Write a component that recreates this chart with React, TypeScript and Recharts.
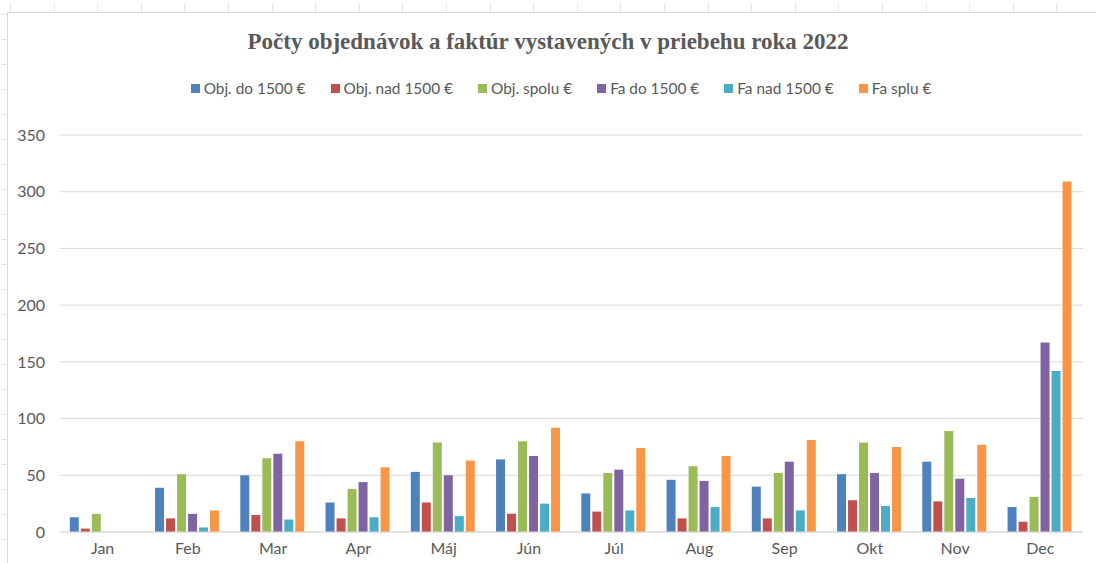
import React from "react";
import { BarChart, Bar, XAxis, YAxis, CartesianGrid, Legend } from "recharts";

const months = ["Jan", "Feb", "Mar", "Apr", "Máj", "Jún", "Júl", "Aug", "Sep", "Okt", "Nov", "Dec"];
const objDo1500 = [13, 39, 50, 26, 53, 64, 34, 46, 40, 51, 62, 22];
const objNad1500 = [3, 12, 15, 12, 26, 16, 18, 12, 12, 28, 27, 9];
const objSpolu = [16, 51, 65, 38, 79, 80, 52, 58, 52, 79, 89, 31];
const faDo1500 = [0, 16, 69, 44, 50, 67, 55, 45, 62, 52, 47, 167];
const faNad1500 = [0, 4, 11, 13, 14, 25, 19, 22, 19, 23, 30, 142];
const faSpolu = [0, 19, 80, 57, 63, 92, 74, 67, 81, 75, 77, 309];
const yTicks = [0, 50, 100, 150, 200, 250, 300, 350];

const series = [
  { key: "objDo", name: "Obj. do 1500 €", color: "#4F81BD", values: objDo1500 },
  { key: "objNad", name: "Obj. nad 1500 €", color: "#C0504D", values: objNad1500 },
  { key: "objSpolu", name: "Obj. spolu €", color: "#9BBB59", values: objSpolu },
  { key: "faDo", name: "Fa do 1500 €", color: "#8064A2", values: faDo1500 },
  { key: "faNad", name: "Fa nad 1500 €", color: "#4BACC6", values: faNad1500 },
  { key: "faSpolu", name: "Fa splu €", color: "#F79646", values: faSpolu },
];

const data = months.map((m, i) => {
  const row: Record<string, string | number> = { month: m };
  series.forEach((s) => {
    row[s.key] = s.values[i];
  });
  return row;
});

const FONT = "Lato, 'Open Sans', sans-serif";

const LegendContent = () => (
  <div
    style={{
      display: "flex",
      justifyContent: "center",
      alignItems: "center",
      fontFamily: FONT,
      fontSize: 15.4,
      color: "#595959",
      height: 20,
      paddingLeft: 26,
    }}
  >
    {series.map((s) => (
      <div key={s.key} style={{ display: "flex", alignItems: "center", margin: "0 12.5px" }}>
        <span style={{ width: 9, height: 9, background: s.color, display: "inline-block", marginRight: 4 }} />
        <span>{s.name}</span>
      </div>
    ))}
  </div>
);

export default function App() {
  return (
    <div style={{ position: "absolute", left: 0, top: 0, width: 1096, height: 563, background: "#fff", overflow: "hidden" }}>
      <div
        style={{
          position: "absolute",
          left: 0,
          top: 4,
          width: 1096,
          height: 8,
          backgroundImage: "repeating-linear-gradient(to right, transparent 0px, transparent 10px, #E3E3E3 10px, #E3E3E3 11px, transparent 11px, transparent 43.6px)",
        }}
      />
      <div
        style={{
          position: "absolute",
          left: 2,
          top: 0,
          width: 5,
          height: 563,
          backgroundImage: "repeating-linear-gradient(to bottom, transparent 0px, transparent 14px, #E3E3E3 14px, #E3E3E3 15px, transparent 15px, transparent 25px)",
        }}
      />
      <div style={{ position: "absolute", left: 7, top: 12, width: 1089, height: 551, borderLeft: "1px solid #D9D9D9", borderTop: "1px solid #D9D9D9", background: "#fff" }} />
      <div
        style={{
          position: "absolute",
          left: 0,
          top: 29,
          width: 1096,
          textAlign: "center",
          fontFamily: "'Liberation Serif', 'Times New Roman', serif",
          fontWeight: "bold",
          fontSize: 23,
          color: "#595959",
        }}
      >
        Počty objednávok a faktúr vystavených v priebehu roka 2022
      </div>
      <div style={{ position: "absolute", left: 0, top: 0 }}>
        <BarChart
          width={1096}
          height={563}
          data={data}
          margin={{ top: 115, right: 13, bottom: 0, left: 0 }}
          barCategoryGap="11.5%"
          barGap={2}
        >
          <CartesianGrid vertical={false} stroke="#D9D9D9" strokeWidth={1} />
          <XAxis
            dataKey="month"
            axisLine={{ stroke: "#D9D9D9" }}
            tickLine={false}
            tickSize={0}
            tickMargin={11}
            height={31}
            tick={{ fill: "#595959", fontSize: 16, fontFamily: FONT }}
          />
          <YAxis
            domain={[0, 350]}
            ticks={yTicks}
            axisLine={false}
            tickLine={false}
            tickSize={0}
            tickMargin={15}
            width={60}
            tick={{ fill: "#595959", fontSize: 16, fontFamily: FONT }}
          />
          <Legend verticalAlign="top" content={<LegendContent />} wrapperStyle={{ top: 78, left: 0, width: 1096 }} />
          {series.map((s) => (
            <Bar key={s.key} dataKey={s.key} name={s.name} fill={s.color} isAnimationActive={false} />
          ))}
        </BarChart>
      </div>
    </div>
  );
}
